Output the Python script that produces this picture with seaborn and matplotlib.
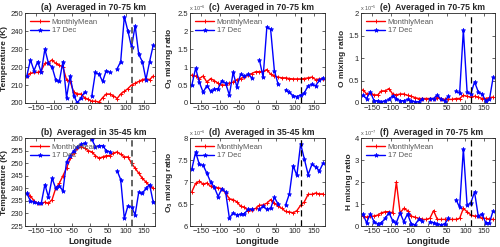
import numpy as np
import pandas as pd
import matplotlib
matplotlib.use("Agg")
import matplotlib.pyplot as plt
import seaborn as sns

# longitude grid (deg)
lon = [-175, -165, -155, -145, -135, -125, -115, -105, -95, -85, -75, -65,
       -55, -45, -35, -25, -15, -5, 5, 15, 25, 35, 45, 55,
       65, 75, 85, 95, 105, 115, 125, 135, 145, 155, 165, 175]
nan = np.nan

# (a) temperature 70-75 km
t_hi_mean = [215, 216.5, 217, 217, 218, 222, 222.5, 224, 222, 221, 220, 213,
             212, 206, 205, 205, 203, 202, 201, 201, 200.5, 203, 205, 205,
             204, 202.5, 205, 206.5, 208, 210, 211, 212, 213, 213.5, 213, 215]
t_hi_dec = [215, 224, 218, 223, 217, 230, 222, 220, 213, 212, 223, 203,
            215, 204, 200, 203, 206, nan, 204, 217, 216, 212, 218, 217,
            nan, 219, 223, 248, 240, 231, 243, 227, 223, 213, 223, 232]

# (b) temperature 35-45 km
t_lo_mean = [238, 237, 235, 234, 234, 234.5, 234, 235.5, 240, 242, 245, 248,
             252, 254, 256, 256.5, 256, 255, 254.5, 253, 252, 252.5, 253, 253,
             254, 254.5, 253.5, 252.5, 252.5, 250, 248, 246, 244, 242.5, 241, 240]
t_lo_dec = [238, 235, 234.5, 234, 234, 241.5, 236.5, 244, 240, 241, 239, 250.5,
            253, 255, 256.5, 257.5, 258, nan, 259.5, 256.5, 257, 257, 255, 254.5,
            nan, 247, 243.5, 228, 233, 232.5, 229.5, 238.5, 238, 240, 241.5, 234.5]

# (c) O3 70-75 km, x1e-6
o3_hi_mean = [0.78, 0.75, 0.68, 0.75, 0.58, 0.68, 0.62, 0.55, 0.5, 0.5, 0.55, 0.58,
              0.65, 0.68, 0.72, 0.78, 0.82, 0.87, 0.87, 0.88, 0.93, 0.8, 0.75, 0.72,
              0.7, 0.7, 0.68, 0.67, 0.67, 0.67, 0.68, 0.7, 0.72, 0.65, 0.67, 0.68]
o3_hi_dec = [0.5, 0.97, 0.57, 0.3, 0.48, 0.33, 0.38, 0.4, 0.62, 0.55, 0.22, 0.85,
             0.45, 0.8, 0.75, 0.8, 0.7, nan, 1.2, 0.72, 2.12, 2.05, 0.9, 0.52,
             nan, 0.37, 0.3, 0.2, 0.18, 0.22, 0.28, 0.48, 0.52, 0.48, 0.63, 0.7]

# (d) O3 35-45 km, x1e-6
o3_lo_mean = [6.78, 6.97, 7.02, 6.95, 6.98, 6.9, 6.88, 6.87, 6.85, 6.75, 6.62, 6.6,
              6.55, 6.45, 6.43, 6.35, 6.37, 6.4, 6.47, 6.48, 6.52, 6.6, 6.52, 6.45,
              6.4, 6.33, 6.32, 6.3, 6.35, 6.47, 6.55, 6.72, 6.72, 6.75, 6.73, 6.73]
o3_lo_dec = [7.3, 7.68, 7.4, 7.38, 7.2, 7.0, 6.88, 6.67, 6.85, 6.77, 6.18, 6.3,
             6.25, 6.27, 6.28, 6.38, 6.38, nan, 6.38, 6.45, 6.38, 6.4, 6.65, 6.5,
             nan, 6.48, 6.73, 7.37, 7.15, 7.87, 7.52, 7.17, 7.4, 7.35, 7.25, 7.43]

# (e) O 70-75 km, x1e-5
o_mean = [0.3, 0.2, 0.22, 0.18, 0.18, 0.27, 0.27, 0.32, 0.2, 0.18, 0.2, 0.2,
          0.17, 0.15, 0.12, 0.1, 0.1, 0.1, 0.1, 0.1, 0.12, 0.1, 0.08, 0.08,
          0.08, 0.1, 0.1, 0.17, 0.15, 0.13, 0.15, 0.13, 0.1, 0.1, 0.12, 0.13]
o_dec = [0.17, 0.1, 0.25, 0.05, 0.05, 0.03, 0.05, 0.08, 0.16, 0.1, 0.05, 0.05,
         0.08, 0.05, 0.03, 0.03, 0.08, nan, 0.1, 0.1, 0.18, 0.08, 0.05, 0.15,
         nan, 0.27, 0.22, 1.62, 0.25, 0.2, 0.47, 0.25, 0.2, 0.05, 0.08, 0.57]

# (f) H 70-75 km, x1e-7
h_mean = [0.45, 0.4, 0.45, 0.45, 0.5, 0.6, 0.65, 0.65, 0.6, 2.0, 0.6, 0.8,
          0.7, 0.45, 0.4, 0.35, 0.3, 0.3, 0.35, 0.7, 0.3, 0.3, 0.3, 0.3,
          0.3, 0.3, 0.35, 0.8, 0.65, 0.5, 0.45, 0.45, 0.35, 0.35, 0.3, 0.3]
h_dec = [0.55, 0.15, 0.55, 0.2, 0.1, 0.15, 0.35, 0.6, 0.25, 0.15, 0.6, 0.2,
         0.55, 0.1, 0.05, 0.3, 0.25, nan, 0.2, 0.15, 0.1, 0.05, 0.1, 0.35,
         nan, 1.2, 0.85, 3.5, 0.95, 1.05, 1.55, 0.45, 0.55, 0.15, 0.15, 0.7]

sns.set_theme(style="ticks")
plt.rcParams['font.family'] = ['Liberation Sans', 'DejaVu Sans']
plt.rcParams['mathtext.fontset'] = 'custom'
plt.rcParams['mathtext.rm'] = 'Liberation Sans'
plt.rcParams['mathtext.bf'] = 'Liberation Sans:bold'
plt.rcParams['xtick.direction'] = 'in'
plt.rcParams['ytick.direction'] = 'in'

fig = plt.figure(figsize=(5, 2.47), dpi=100)

# panel config: (position, title, ylabel, mean, dec, ylim, yticks, exponent)
panels = [
    ([0.050, 0.583, 0.260, 0.364], "(a)  Averaged in 70-75 km", "Temperature (K)",
     t_hi_mean, t_hi_dec, (200, 250), np.arange(200, 251, 10), None),
    ([0.380, 0.583, 0.270, 0.364], "(c)  Averaged in 70-75 km", r"O$_\mathbf{3}$ mixing ratio",
     o3_hi_mean, o3_hi_dec, (0, 2.5), np.arange(0, 2.51, 0.5), -6),
    ([0.722, 0.583, 0.268, 0.364], "(e)  Averaged in 70-75 km", "O mixing ratio",
     o_mean, o_dec, (0, 2), np.arange(0, 2.01, 0.5), -5),
    ([0.050, 0.085, 0.260, 0.356], "(b)  Averaged in 35-45 km", "Temperature (K)",
     t_lo_mean, t_lo_dec, (225, 260), np.arange(225, 261, 5), None),
    ([0.380, 0.085, 0.270, 0.356], "(d)  Averaged in 35-45 km", r"O$_\mathbf{3}$ mixing ratio",
     o3_lo_mean, o3_lo_dec, (6, 8), np.arange(6, 8.01, 0.5), -6),
    ([0.722, 0.085, 0.268, 0.356], "(f)  Averaged in 70-75 km", "H mixing ratio",
     h_mean, h_dec, (0, 4), np.arange(0, 4.01, 1), -7),
]

for i, (pos, title, ylab, mean, dec, ylim, yticks, expo) in enumerate(panels):
    ax = fig.add_axes(pos)
    df = pd.DataFrame({"lon": lon, "mean": mean, "dec": dec})
    # segment id so gaps in the 17 Dec data stay open
    df["seg"] = df["dec"].isna().cumsum()
    sns.lineplot(data=df, x="lon", y="mean", ax=ax, color="red", lw=1.0,
                 marker="+", markersize=3, markeredgewidth=0.7,
                 markeredgecolor="red")
    sns.lineplot(data=df.dropna(), x="lon", y="dec", units="seg", estimator=None,
                 ax=ax, color="blue", lw=1.0, marker="*", markersize=3.2,
                 markeredgecolor="blue", markeredgewidth=0.5)
    temp = expo is None
    ax.axvline(116, color="0.35" if temp else "black", ls="--",
               lw=1.3 if temp else 0.9, dashes=(3.5, 2) if temp else (5, 3))
    ax.set_xlim(-180, 180)
    ax.set_xticks([-150, -100, -50, 0, 50, 100, 150])
    ax.set_ylim(*ylim)
    ax.set_yticks(yticks)
    ax.set_yticklabels([f"{v:g}" for v in yticks])
    if not temp:
        ax.text(-0.01, 1.005, r"x 10$^{%d}$" % expo, transform=ax.transAxes,
                fontsize=4.0, color="0.35", ha="left", va="bottom")
    ax.tick_params(labelsize=5.5, length=2, width=0.5, colors="0.15", pad=1.5,
                   top=True, right=True)
    for s in ax.spines.values():
        s.set_visible(True)
        s.set_linewidth(0.6)
        s.set_color("0.15")
    ax.set_title(title, fontsize=6.3, fontweight="bold", pad=2.5, x=0.53)
    ax.set_ylabel(ylab, fontsize=6, fontweight="bold", labelpad=1.5)
    if i >= 3:
        ax.set_xlabel("Longitude", fontsize=6.5, fontweight="bold", labelpad=1.5)
    else:
        ax.set_xlabel("")
    lines = ax.get_lines()
    leg = ax.legend([lines[0], lines[1]], ["MonthlyMean", "17 Dec"],
                    loc="upper left", frameon=False, fontsize=5.5,
                    handlelength=2.5, borderaxespad=0.3, labelspacing=0.15,
                    handletextpad=0.3)
    for t in leg.get_texts():
        t.set_color("0.35")

fig.savefig("out.png", dpi=100)
